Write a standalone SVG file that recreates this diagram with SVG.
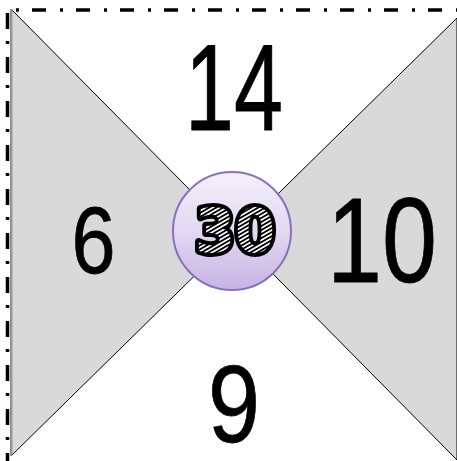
<svg xmlns="http://www.w3.org/2000/svg" width="457" height="461" viewBox="0 0 457 461">
  <defs>
    <linearGradient id="circGrad" x1="0" y1="0" x2="0" y2="1">
      <stop offset="0" stop-color="#f3f0fa"/>
      <stop offset="0.5" stop-color="#e2d9f2"/>
      <stop offset="1" stop-color="#c6b3e3"/>
    </linearGradient>
    <pattern id="hatch" width="3.5" height="3.5" patternUnits="userSpaceOnUse" patternTransform="rotate(60)">
      <rect width="3.5" height="3.5" fill="#ffffff"/>
      <rect width="1.8" height="3.5" fill="#000000"/>
    </pattern>
    <style>
      .tri { fill: #d9d9d9; stroke: #000; stroke-width: 1; }
      .border { fill: none; stroke: #000; stroke-width: 3.5; stroke-dasharray: 3 13 14 14; }
      .num { font-family: "Liberation Sans", Arial, sans-serif; fill: #000; stroke: #000; stroke-width: 0.8; stroke-linejoin: round; text-anchor: middle; }
      .center { font-family: "DejaVu Sans", "Liberation Sans", sans-serif; font-weight: bold; fill: url(#hatch); stroke: #000; stroke-width: 8; stroke-linejoin: round; paint-order: stroke; text-anchor: middle; }
    </style>
  </defs>
  <rect width="457" height="461" fill="#ffffff"/>
  <g id="connectors">
    <polygon class="tri" points="11,9 11,456 235.3,235.8"/>
    <polygon class="tri" points="457,18 457,460 235.3,235.8"/>
    <line x1="11.5" y1="9" x2="11.5" y2="456" stroke="#999" stroke-width="2"/>
  </g>
  <g id="border">
    <line class="border" x1="16" y1="10" x2="457" y2="10"/>
    <line class="border" x1="7.5" y1="13" x2="7.5" y2="461" style="stroke-dasharray: 16 12 3 13"/>
  </g>
  <g id="node-top">
    <text class="num" x="234" y="130" font-size="122" textLength="98" lengthAdjust="spacingAndGlyphs">14</text>
  </g>
  <g id="node-left">
    <text class="num" x="93.5" y="273" font-size="94" textLength="44" lengthAdjust="spacingAndGlyphs">6</text>
  </g>
  <g id="node-right">
    <text class="num" x="382" y="282" font-size="120" textLength="110" lengthAdjust="spacingAndGlyphs">10</text>
  </g>
  <g id="node-bottom">
    <text class="num" x="234" y="442" font-size="109" textLength="52" lengthAdjust="spacingAndGlyphs">9</text>
  </g>
  <g id="node-center">
    <circle cx="232" cy="231" r="59" fill="url(#circGrad)" stroke="#8b70bd" stroke-width="2"/>
    <text class="center" x="235" y="252" font-size="60" textLength="80" lengthAdjust="spacingAndGlyphs">30</text>
  </g>
</svg>
